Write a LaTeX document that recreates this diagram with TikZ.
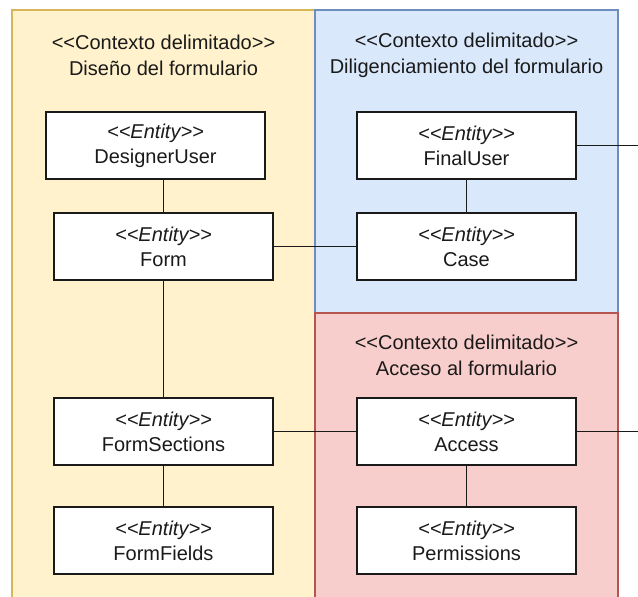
\documentclass[tikz,border=0pt]{standalone}
\usepackage{fontspec}
\setmainfont{Liberation Sans}[Ligatures=ResetAll]
\definecolor{ctxYellowFill}{HTML}{FFF2CC}
\definecolor{ctxYellowLine}{HTML}{D6B656}
\definecolor{ctxBlueFill}{HTML}{DAE8FC}
\definecolor{ctxBlueLine}{HTML}{6C8EBF}
\definecolor{ctxRedFill}{HTML}{F8CECC}
\definecolor{ctxRedLine}{HTML}{B85450}
\definecolor{ink}{HTML}{1A1A1A}
\tikzset{
  context/.style={line width=1pt},
  ctxtitle/.style={align=center, text=ink, font=\fontsize{15pt}{19.5pt}\selectfont, inner sep=0pt},
  entity/.style={draw=ink, fill=white, line width=1.2pt, align=center, text=ink,
    minimum width=164.25pt, minimum height=50.25pt, inner sep=0pt,
    font=\fontsize{15pt}{18.75pt}\selectfont},
  link/.style={draw=ink, line width=1.1pt}
}
% stereotype brackets kept as separate characters (no guillemet ligature)
\newcommand{\stOpen}{\mbox{<}\mbox{<}}
\newcommand{\stClose}{\mbox{>}\mbox{>}}
\newcommand{\ent}[1]{\textit{\stOpen Entity\stClose}\\#1}
\newcommand{\ctx}[1]{\stOpen Contexto delimitado\stClose\\#1}
\begin{document}
\begin{tikzpicture}[x=0.75pt, y=-0.75pt]
  \useasboundingbox (0,0) rectangle (638,596);
  \clip (0,0) rectangle (638,596);

  % bounded contexts
  \draw[context, fill=ctxYellowFill, draw=ctxYellowLine] (12,10) rectangle (315,620);
  \draw[context, fill=ctxBlueFill, draw=ctxBlueLine] (315,10) rectangle (618,313);
  \draw[context, fill=ctxRedFill, draw=ctxRedLine] (315,313) rectangle (618,620);

  \node[ctxtitle] (tDesign) at (163.5,55) {\ctx{Diseño del formulario}};
  \node[ctxtitle] (tFill) at (466.5,55) {\ctx{Diligenciamiento del formulario}};
  \node[ctxtitle] (tAccess) at (466.5,355.5) {\ctx{Acceso al formulario}};

  % entities
  \node[entity] (designer) at (155.5,145.5) {\ent{DesignerUser}};
  \node[entity] (form) at (163.5,246.5) {\ent{Form}};
  \node[entity] (sections) at (163.5,431.5) {\ent{FormSections}};
  \node[entity] (fields) at (163.5,540.5) {\ent{FormFields}};
  \node[entity] (finaluser) at (466.5,145.5) {\ent{FinalUser}};
  \node[entity] (case) at (466.5,246.5) {\ent{Case}};
  \node[entity] (access) at (466.5,431.5) {\ent{Access}};
  \node[entity] (perms) at (466.5,540.5) {\ent{Permissions}};

  % connectors
  \coordinate (rightEdge) at (640,0);
  \coordinate (fuOut) at (finaluser.east -| rightEdge);
  \coordinate (acOut) at (access.east -| rightEdge);
  \draw[link] (form.north) -- (form.north |- designer.south);
  \draw[link] (form) -- (sections);
  \draw[link] (sections) -- (fields);
  \draw[link] (form) -- (case);
  \draw[link] (sections) -- (access);
  \draw[link] (finaluser) -- (case);
  \draw[link] (access) -- (perms);
  \draw[link] (finaluser.east) -- (fuOut);
  \draw[link] (access.east) -- (acOut);
\end{tikzpicture}
\end{document}
